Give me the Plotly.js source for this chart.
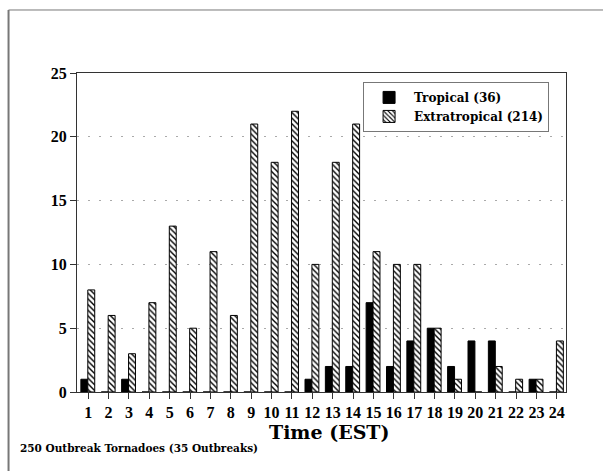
<!DOCTYPE html>
<html><head><meta charset="utf-8">
<script src="https://cdn.plot.ly/plotly-3.0.1.min.js"></script>
<style>html,body{margin:0;padding:0;background:#fff;}#chart{width:603px;height:471px;}</style>
</head><body><div id="chart"></div>
<script>
const hours = [1,2,3,4,5,6,7,8,9,10,11,12,13,14,15,16,17,18,19,20,21,22,23,24];
const tropical = [1,0,1,0,0,0,0,0,0,0,0,1,2,2,7,2,4,5,2,4,4,0,1,0];
const extratropical = [8,6,3,7,13,5,11,6,21,18,22,10,18,21,11,10,10,5,1,0,2,1,1,4];
const yTicks = [0,5,10,15,20,25];
const fontFam = '"Liberation Serif", "DejaVu Serif", serif';
const wideFam = '"DejaVu Serif", "Liberation Serif", serif';

const traces = [
  {type:'bar', name:'Tropical (36)', x:hours, y:tropical, offset:-0.36, width:0.34,
   marker:{color:'#000', line:{color:'#000', width:1}}},
  {type:'bar', name:'Extratropical (214)', x:hours, y:extratropical, offset:-0.02, width:0.34,
   marker:{color:'#fff', line:{color:'#000', width:1},
     pattern:{shape:'\\', fgcolor:'#000', bgcolor:'#fff', size:4, solidity:0.35}}}
];
const layout = {
  width:603, height:471,
  margin:{l:77, r:37, t:73, b:79},
  paper_bgcolor:'#fff', plot_bgcolor:'#fff',
  showlegend:true,
  legend:{x:0.585, y:0.972, xanchor:'left', yanchor:'top', bgcolor:'#fff',
    bordercolor:'#777', borderwidth:1, font:{family:wideFam, size:12, color:'#000', weight:'bold'},
    tracegroupgap:10, itemwidth:40},
  xaxis:{range:[0.45,24.45], tickvals:hours, ticktext:hours.map(String), ticks:'outside', ticklen:6,
    tickcolor:'#333', showline:true, linecolor:'#333', mirror:true, showgrid:false, zeroline:false,
    tickfont:{family:fontFam, size:16, color:'#000', weight:'bold'}},
  yaxis:{range:[0,25], tickvals:yTicks, ticks:'outside', ticklen:6, tickcolor:'#333',
    showline:true, linecolor:'#333', mirror:true, showgrid:true, gridcolor:'#aaa', griddash:'2px,9px', gridwidth:1,
    zeroline:false, tickfont:{family:fontFam, size:16, color:'#000', weight:'bold'}},
  shapes:[
    {type:'line', xref:'paper', yref:'paper', x0:-0.14, x1:1.08, y0:1.1975, y1:1.1975, line:{color:'#777', width:1}},
    {type:'line', xref:'paper', yref:'paper', x0:-0.14, x1:-0.14, y0:1.1975, y1:-0.26, line:{color:'#777', width:2}}
  ],
  annotations:[
    {xref:'paper', yref:'paper', x:0.517, y:-0.125, xanchor:'center', yanchor:'middle', showarrow:false,
     text:'Time (EST)', font:{family:wideFam, size:19, color:'#000', weight:'bold'}},
    {xref:'paper', yref:'paper', x:-0.121, y:-0.1755, xanchor:'left', yanchor:'middle', showarrow:false,
     text:'250 Outbreak Tornadoes (35 Outbreaks)', font:{family:wideFam, size:10.5, color:'#000', weight:'bold'}}
  ]
};
Plotly.newPlot('chart', traces, layout, {displayModeBar:false, staticPlot:true});
</script></body></html>
